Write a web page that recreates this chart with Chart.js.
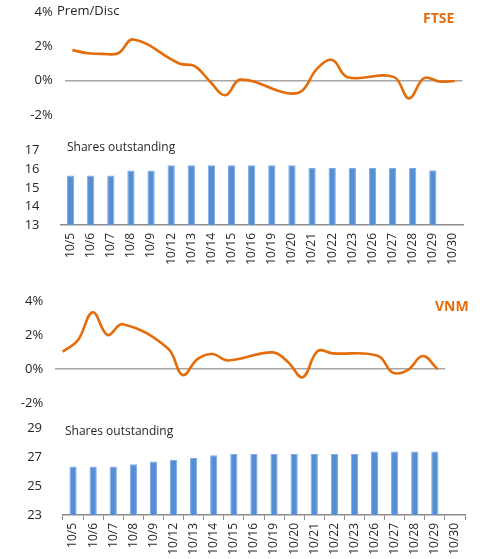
<!DOCTYPE html>
<html>
<head>
<meta charset="utf-8">
<script src="https://cdn.jsdelivr.net/npm/chart.js@4"></script>
<style>
  body { margin: 0; background: #fff; }
  #wrap { position: relative; width: 500px; height: 559px; font-family: "Open Sans", sans-serif; color: #262626; }
  #wrap canvas { position: absolute; left: 0; }
  .lbl { position: absolute; white-space: nowrap; line-height: 1; }
  .fund { color: #E46C0A; font-weight: bold; font-size: 14px; }
</style>
</head>
<body>
<div id="wrap">
  <canvas id="ftseLine" width="500" height="125" style="top:0"></canvas>
  <canvas id="ftseBars" width="500" height="145" style="top:130px"></canvas>
  <canvas id="vnmLine" width="500" height="125" style="top:290px"></canvas>
  <canvas id="vnmBars" width="500" height="149" style="top:410px"></canvas>
  <div class="lbl" style="left:57px;top:4px;font-size:13px">Prem/Disc</div>
  <div class="lbl fund" style="left:423px;top:11px">FTSE</div>
  <div class="lbl" style="left:67px;top:141px;font-size:12px">Shares outstanding</div>
  <div class="lbl fund" style="left:435px;top:299px">VNM</div>
  <div class="lbl" style="left:65px;top:425px;font-size:12px">Shares outstanding</div>
</div>
<script>
// trading days (bar categories)
const dates = ['10/5', '10/6', '10/7', '10/8', '10/9', '10/12', '10/13', '10/14', '10/15', '10/16',
               '10/19', '10/20', '10/21', '10/22', '10/23', '10/26', '10/27', '10/28', '10/29', '10/30'];

// premium / discount, % (line charts, placed on a calendar-day axis)
const ftsePrem = [1.78, 1.6, 1.56, 1.6, 2.4, 1.0, 0.85, -0.05, -0.85, 0.06,
                  -0.72, -0.6, 0.7, 1.2, 0.2, 0.22, -1.03, 0.15, -0.05, -0.02];
const vnmPrem = [1.04, 1.7, 3.37, 2.03, 2.67, 1.24, -0.34, 0.61, 0.9, 0.52,
                 1.0, 0.45, -0.47, 1.08, 0.94, 0.8, -0.2, -0.05, 0.78, 0.0];

// shares outstanding, millions
const ftseShares = [15.66, 15.66, 15.66, 15.93, 15.93, 16.22, 16.22, 16.22, 16.22, 16.22,
                    16.22, 16.22, 16.07, 16.07, 16.07, 16.07, 16.07, 16.07, 15.95, null];
const vnmShares = [26.36, 26.36, 26.36, 26.52, 26.7, 26.8, 26.95, 27.14, 27.23, 27.23,
                   27.23, 27.23, 27.23, 27.23, 27.23, 27.4, 27.4, 27.4, 27.4, null];

const premTicks = [-2, 0, 2, 4];

const ORANGE = '#E46C0A';
const BLUE = '#558ED5';
const TEXT = '#262626';

Chart.defaults.font.family = '"Open Sans", sans-serif';
Chart.defaults.color = TEXT;
Chart.defaults.animation = false;

function dayOf(d) { return parseInt(d.split('/')[1], 10); }

// fixed axis width, and no extra top/bottom padding from tick labels
function fixAxis(w) {
    return s => {
        s.width = w;
        s.paddingTop = 0;
        s.paddingBottom = 0;
    };
}

function premChart(id, values, pad, axisW) {
    const pts = dates.map((d, i) => ({ x: dayOf(d), y: values[i] }));
    return new Chart(document.getElementById(id), {
        type: 'line',
        data: {
            datasets: [{
                data: pts,
                borderColor: ORANGE,
                borderWidth: 2.6,
                pointRadius: 0,
                tension: 0.4,
                fill: false
            }]
        },
        options: {
            responsive: false,
            layout: { padding: pad },
            plugins: { legend: { display: false }, tooltip: { enabled: false } },
            scales: {
                x: {
                    type: 'linear',
                    min: dayOf(dates[0]) - 0.5,
                    max: dayOf(dates[dates.length - 1]) + 0.5,
                    display: false
                },
                y: {
                    min: -2,
                    max: 4,
                    afterFit: fixAxis(axisW),
                    afterBuildTicks: s => { s.ticks = premTicks.map(v => ({ value: v })); },
                    border: { display: false },
                    grid: {
                        drawTicks: false,
                        color: c => c.tick && c.tick.value === 0 ? '#A6A6A6' : 'rgba(0,0,0,0)',
                        lineWidth: 1.5
                    },
                    ticks: {
                        padding: 12,
                        autoSkip: false,
                        font: { size: 13 },
                        callback: v => v + '%'
                    }
                }
            }
        }
    });
}

function sharesChart(id, values, yMin, yMax, step, pad, axisW, axisH, tickMarks) {
    return new Chart(document.getElementById(id), {
        type: 'bar',
        data: {
            labels: dates,
            datasets: [{
                data: values,
                backgroundColor: BLUE,
                borderColor: '#7FA9E0',
                borderWidth: { left: 1, right: 1, top: 1, bottom: 0 },
                barPercentage: 0.9,
                categoryPercentage: 0.4
            }]
        },
        options: {
            responsive: false,
            layout: { padding: pad },
            plugins: { legend: { display: false }, tooltip: { enabled: false } },
            scales: {
                x: {
                    afterFit: s => { s.height = axisH; },
                    border: { display: true, color: '#8C8C8C', width: 1.5 },
                    grid: {
                        display: tickMarks,
                        drawOnChartArea: false,
                        drawTicks: tickMarks,
                        tickLength: 5,
                        color: '#8C8C8C'
                    },
                    ticks: {
                        minRotation: 90,
                        maxRotation: 90,
                        autoSkip: false,
                        padding: tickMarks ? 3 : 8,
                        font: { size: 12 }
                    }
                },
                y: {
                    min: yMin,
                    max: yMax,
                    afterFit: fixAxis(axisW),
                    border: { display: false },
                    grid: { display: false },
                    ticks: { stepSize: step, autoSkip: false, padding: 13, font: { size: 13 } }
                }
            }
        }
    });
}

premChart('ftseLine', ftsePrem, { top: 12, bottom: 10, left: 0, right: 37.6 }, 64.7);
sharesChart('ftseBars', ftseShares, 13, 17, 1, { top: 20.7, bottom: 0, left: 0, right: 37 }, 60.5, 50, false);
premChart('vnmLine', vnmPrem, { top: 11.7, bottom: 12, left: 0, right: 54.8 }, 55.2);
sharesChart('vnmBars', vnmShares, 23, 29, 2, { top: 18.3, bottom: 0, left: 0, right: 35 }, 63, 44, true);
</script>
</body>
</html>
